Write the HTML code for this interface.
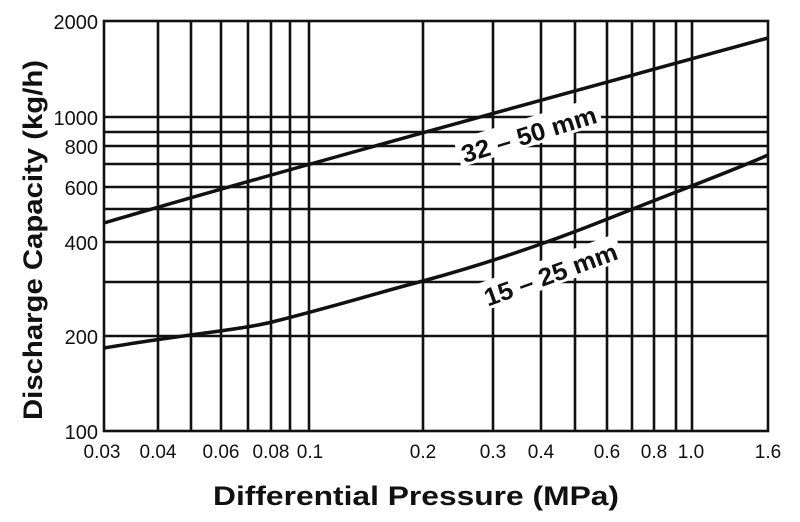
<!DOCTYPE html>
<html><head><style>body{margin:0;background:#fff}svg{display:block}</style></head><body>
<svg width="800" height="522" xmlns="http://www.w3.org/2000/svg" font-family="'Liberation Sans',sans-serif">
<g stroke="#111" stroke-width="2.6" fill="none">
<rect x="104" y="21" width="664" height="410"/>
<path d="M158 21V431M191 21V431M221 21V431M248 21V431M271 21V431M290 21V431M309 21V431M423 21V431M493 21V431M541 21V431M575 21V431M607 21V431M632 21V431M654 21V431M676 21V431M692 21V431"/>
<path d="M104 117H768M104 132H768M104 146H768M104 164H768M104 187H768M104 209H768M104 242H768M104 282H768M104 336H768"/>
<path stroke-width="3.5" d="M104 223 C250 180 450 125 768 38"/>
<path stroke-width="3.5" d="M104 348 C180 335 240 330 272 322 C340 305 380 292 423 281 C500 260 560 238 610 218 C680 190 730 172 768 155"/>
</g>
<g font-weight="bold" font-size="25" fill="#111">
<g transform="translate(530,138) rotate(-17)"><rect x="-74" y="-20" width="148" height="28" fill="#fff"/><text text-anchor="middle" y="5" textLength="140" lengthAdjust="spacingAndGlyphs">32 – 50 mm</text></g>
<g transform="translate(552,278) rotate(-20)"><rect x="-74" y="-20" width="148" height="28" fill="#fff"/><text text-anchor="middle" y="5" textLength="140" lengthAdjust="spacingAndGlyphs">15 – 25 mm</text></g>
</g>
<g font-size="20" fill="#111" text-anchor="end">
<text x="98" y="29">2000</text><text x="98" y="125">1000</text><text x="98" y="154">800</text><text x="98" y="195">600</text><text x="98" y="250">400</text><text x="98" y="344">200</text><text x="98" y="439">100</text>
</g>
<g font-size="19" fill="#111" text-anchor="middle">
<text x="102" y="458">0.03</text><text x="158" y="458">0.04</text><text x="221" y="458">0.06</text><text x="271" y="458">0.08</text><text x="310" y="458">0.1</text><text x="423" y="458">0.2</text><text x="493" y="458">0.3</text><text x="541" y="458">0.4</text><text x="607" y="458">0.6</text><text x="654" y="458">0.8</text><text x="691" y="458">1.0</text><text x="768" y="458">1.6</text>
</g>
<g font-weight="bold" font-size="27" fill="#111" text-anchor="middle">
<text x="416" y="505" textLength="406" lengthAdjust="spacingAndGlyphs">Differential Pressure (MPa)</text>
<text transform="translate(42,240) rotate(-90)" textLength="360" lengthAdjust="spacingAndGlyphs">Discharge Capacity (kg/h)</text>
</g>
</svg>
</body></html>
